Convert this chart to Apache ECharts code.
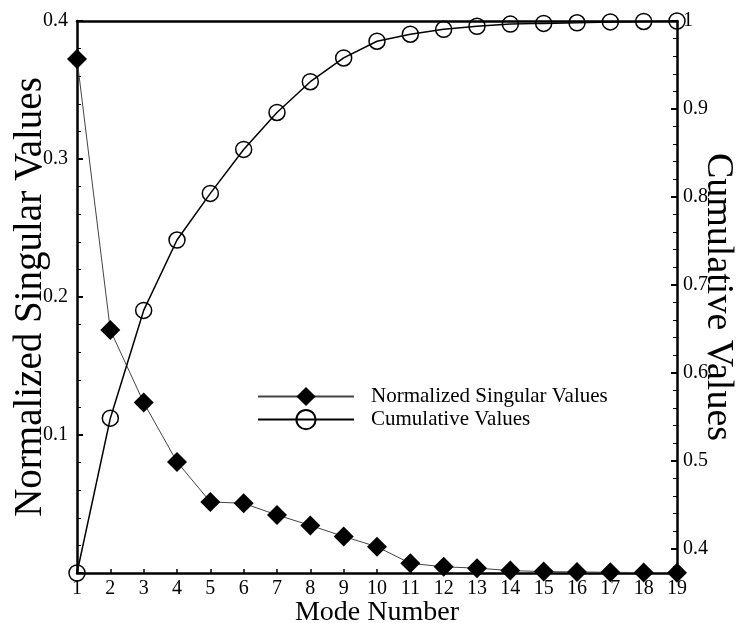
<!DOCTYPE html>
<html>
<head>
<meta charset="utf-8">
<script src="https://cdn.jsdelivr.net/npm/echarts@6/dist/echarts.min.js"></script>
<style>
  html, body { margin: 0; padding: 0; background: #fff; }
  #chart { width: 738px; height: 623px; }
</style>
</head>
<body>
<div id="chart"></div>
<script>
var modes = [1, 2, 3, 4, 5, 6, 7, 8, 9, 10, 11, 12, 13, 14, 15, 16, 17, 18, 19];
var normalized = [0.3725, 0.176, 0.1235, 0.0805, 0.0515, 0.0505, 0.042, 0.0345, 0.0265, 0.019,
                  0.007, 0.0045, 0.0035, 0.0018, 0.001, 0.0008, 0.0005, 0.0003, 0.0001];
var cumulative = [0.3725, 0.5485, 0.671, 0.751, 0.804, 0.854, 0.896, 0.931, 0.958, 0.977,
                  0.985, 0.9905, 0.994, 0.9965, 0.9973, 0.998, 0.999, 0.9995, 1.0];
var leftTicks = [0.1, 0.2, 0.3, 0.4];
var rightTicks = [0.4, 0.5, 0.6, 0.7, 0.8, 0.9, 1];

var serif = '"Liberation Serif", "DejaVu Serif", serif';

function pairs(ys) {
    return modes.map(function (m, i) { return [m, ys[i]]; });
}

function showIf(list) {
    return function (v) {
        for (var i = 0; i < list.length; i++) {
            if (Math.abs(v - list[i]) < 1e-6) return String(list[i]);
        }
        return '';
    };
}

var chart = echarts.init(document.getElementById('chart'));
chart.setOption({
    backgroundColor: '#fff',
    animation: false,
    grid: { left: 77, right: 61, top: 21, bottom: 50, containLabel: false, outerBoundsMode: 'none' },
    legend: {
        orient: 'vertical',
        left: 257,
        top: 386,
        padding: 0,
        itemWidth: 96,
        itemHeight: 24,
        itemGap: 2,
        textStyle: { fontFamily: serif, fontSize: 21, color: '#000', padding: [0, 0, 0, 12] },
        data: ['Normalized Singular Values', 'Cumulative Values']
    },
    xAxis: [{
        type: 'value',
        min: 1,
        max: 19,
        interval: 1,
        name: 'Mode Number',
        nameLocation: 'middle',
        nameGap: 26,
        nameMoveOverlap: false,
        nameTextStyle: { fontFamily: serif, fontSize: 28, color: '#000' },
        axisLine: { lineStyle: { color: '#000', width: 2.5 } },
        axisTick: { inside: true, length: 4, lineStyle: { color: '#000', width: 1.5 } },
        axisLabel: { fontFamily: serif, fontSize: 20, color: '#000', margin: 6 },
        splitLine: { show: false }
    }, {
        type: 'value',
        position: 'top',
        min: 1,
        max: 19,
        axisLine: { lineStyle: { color: '#000', width: 2.5 } },
        axisTick: { show: false },
        axisLabel: { show: false },
        splitLine: { show: false }
    }],
    yAxis: [{
        type: 'value',
        min: 0,
        max: 0.4,
        interval: 0.1,
        name: 'Normalized Singular Values',
        nameLocation: 'middle',
        nameRotate: 90,
        nameGap: 27,
        nameMoveOverlap: false,
        nameTextStyle: { fontFamily: serif, fontSize: 39, color: '#000' },
        axisLine: { show: true, lineStyle: { color: '#000', width: 2.5 } },
        axisTick: { inside: true, length: 6, lineStyle: { color: '#000', width: 2 } },
        minorTick: { show: true, splitNumber: 5, length: 4, lineStyle: { color: '#000', width: 1 } },
        axisLabel: { fontFamily: serif, fontSize: 20, color: '#000', margin: 9, formatter: showIf(leftTicks) },
        splitLine: { show: false }
    }, {
        type: 'value',
        position: 'right',
        min: 0.3725,
        max: 1,
        splitNumber: 6,
        name: 'Cumulative Values',
        nameLocation: 'middle',
        nameRotate: -90,
        nameGap: 22,
        nameMoveOverlap: false,
        nameTextStyle: { fontFamily: serif, fontSize: 38, color: '#000' },
        axisLine: { show: true, lineStyle: { color: '#000', width: 2.5 } },
        axisTick: { inside: true, length: 6, lineStyle: { color: '#000', width: 2 } },
        minorTick: { show: true, splitNumber: 5, length: 4, lineStyle: { color: '#000', width: 1 } },
        axisLabel: { fontFamily: serif, fontSize: 20, color: '#000', margin: 6, formatter: showIf(rightTicks) },
        splitLine: { show: false }
    }],
    series: [{
        name: 'Normalized Singular Values',
        type: 'line',
        yAxisIndex: 0,
        data: pairs(normalized),
        symbol: 'diamond',
        symbolSize: 20,
        itemStyle: { color: '#000' },
        lineStyle: { color: '#444', width: 1 },
        z: 3
    }, {
        name: 'Cumulative Values',
        type: 'line',
        yAxisIndex: 1,
        data: pairs(cumulative),
        symbol: 'circle',
        symbolSize: 16,
        itemStyle: { color: 'rgba(255,255,255,0)', borderColor: '#000', borderWidth: 1.5 },
        lineStyle: { color: '#000', width: 1.5 },
        z: 4
    }]
});
</script>
</body>
</html>
